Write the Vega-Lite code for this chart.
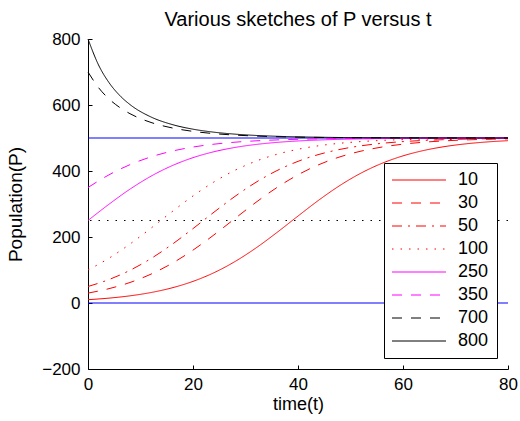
{
  "$schema": "https://vega.github.io/schema/vega-lite/v6.json",
  "width": 420,
  "height": 330,
  "autosize": {"type": "none"},
  "padding": {"left": 88, "top": 39, "right": 12, "bottom": 52},
  "background": "white",
  "config": {
    "font": "Liberation Sans",
    "view": {"stroke": null},
    "axis": {
      "grid": false,
      "domainColor": "#000000",
      "domainWidth": 1,
      "tickColor": "#000000",
      "tickSize": -4,
      "labelFontSize": 17,
      "labelColor": "#000000",
      "labelFlush": false,
      "titleFontSize": 19,
      "titleFontWeight": "normal",
      "titleColor": "#000000",
      "labelFont": "Liberation Sans",
      "titleFont": "Liberation Sans"
    },
    "legend": {
      "labelFont": "Liberation Sans"
    }
  },
  "title": {
    "text": "Various sketches of P versus t",
    "fontSize": 20,
    "fontWeight": "normal",
    "color": "#000000",
    "font": "Liberation Sans",
    "anchor": "middle",
    "offset": 0
  },
  "datasets": {
    "curves": [
      {"p0": 10, "t": 0, "P": 10}, {"p0": 10, "t": 4, "P": 14.77}, {"p0": 10, "t": 8, "P": 21.72}, {"p0": 10, "t": 12, "P": 31.73}, {"p0": 10, "t": 16, "P": 45.9}, {"p0": 10, "t": 20, "P": 65.52}, {"p0": 10, "t": 24, "P": 91.82}, {"p0": 10, "t": 28, "P": 125.64}, {"p0": 10, "t": 32, "P": 166.82}, {"p0": 10, "t": 36, "P": 213.78}, {"p0": 10, "t": 40, "P": 263.5}, {"p0": 10, "t": 44, "P": 312.19}, {"p0": 10, "t": 48, "P": 356.31}, {"p0": 10, "t": 52, "P": 393.6}, {"p0": 10, "t": 56, "P": 423.3}, {"p0": 10, "t": 60, "P": 445.85}, {"p0": 10, "t": 64, "P": 462.36}, {"p0": 10, "t": 68, "P": 474.13}, {"p0": 10, "t": 72, "P": 482.36}, {"p0": 10, "t": 76, "P": 488.03}, {"p0": 10, "t": 80, "P": 491.92},
      {"p0": 30, "t": 0, "P": 30}, {"p0": 30, "t": 4, "P": 43.47}, {"p0": 30, "t": 8, "P": 62.19}, {"p0": 30, "t": 12, "P": 87.43}, {"p0": 30, "t": 16, "P": 120.1}, {"p0": 30, "t": 20, "P": 160.25}, {"p0": 30, "t": 24, "P": 206.5}, {"p0": 30, "t": 28, "P": 256.06}, {"p0": 30, "t": 32, "P": 305.14}, {"p0": 30, "t": 36, "P": 350.12}, {"p0": 30, "t": 40, "P": 388.52}, {"p0": 30, "t": 44, "P": 419.34}, {"p0": 30, "t": 48, "P": 442.89}, {"p0": 30, "t": 52, "P": 460.22}, {"p0": 30, "t": 56, "P": 472.62}, {"p0": 30, "t": 60, "P": 481.31}, {"p0": 30, "t": 64, "P": 487.31}, {"p0": 30, "t": 68, "P": 491.42}, {"p0": 30, "t": 72, "P": 494.22}, {"p0": 30, "t": 76, "P": 496.11}, {"p0": 30, "t": 80, "P": 497.39},
      {"p0": 50, "t": 0, "P": 50}, {"p0": 50, "t": 4, "P": 71.09}, {"p0": 50, "t": 8, "P": 99.13}, {"p0": 50, "t": 12, "P": 134.74}, {"p0": 50, "t": 16, "P": 177.49}, {"p0": 50, "t": 20, "P": 225.43}, {"p0": 50, "t": 24, "P": 275.26}, {"p0": 50, "t": 28, "P": 323.14}, {"p0": 50, "t": 32, "P": 365.8}, {"p0": 50, "t": 36, "P": 401.31}, {"p0": 50, "t": 40, "P": 429.24}, {"p0": 50, "t": 44, "P": 450.25}, {"p0": 50, "t": 48, "P": 465.52}, {"p0": 50, "t": 52, "P": 476.35}, {"p0": 50, "t": 56, "P": 483.9}, {"p0": 50, "t": 60, "P": 489.09}, {"p0": 50, "t": 64, "P": 492.63}, {"p0": 50, "t": 68, "P": 495.04}, {"p0": 50, "t": 72, "P": 496.66}, {"p0": 50, "t": 76, "P": 497.76}, {"p0": 50, "t": 80, "P": 498.5},
      {"p0": 100, "t": 0, "P": 100}, {"p0": 100, "t": 4, "P": 135.82}, {"p0": 100, "t": 8, "P": 178.74}, {"p0": 100, "t": 12, "P": 226.78}, {"p0": 100, "t": 16, "P": 276.61}, {"p0": 100, "t": 20, "P": 324.39}, {"p0": 100, "t": 24, "P": 366.87}, {"p0": 100, "t": 28, "P": 402.17}, {"p0": 100, "t": 32, "P": 429.9}, {"p0": 100, "t": 36, "P": 450.73}, {"p0": 100, "t": 40, "P": 465.87}, {"p0": 100, "t": 44, "P": 476.59}, {"p0": 100, "t": 48, "P": 484.07}, {"p0": 100, "t": 52, "P": 489.2}, {"p0": 100, "t": 56, "P": 492.71}, {"p0": 100, "t": 60, "P": 495.09}, {"p0": 100, "t": 64, "P": 496.7}, {"p0": 100, "t": 68, "P": 497.78}, {"p0": 100, "t": 72, "P": 498.51}, {"p0": 100, "t": 76, "P": 499.0}, {"p0": 100, "t": 80, "P": 499.33},
      {"p0": 250, "t": 0, "P": 250}, {"p0": 250, "t": 4, "P": 299.34}, {"p0": 250, "t": 8, "P": 344.99}, {"p0": 250, "t": 12, "P": 384.26}, {"p0": 250, "t": 16, "P": 416.01}, {"p0": 250, "t": 20, "P": 440.4}, {"p0": 250, "t": 24, "P": 458.41}, {"p0": 250, "t": 28, "P": 471.34}, {"p0": 250, "t": 32, "P": 480.42}, {"p0": 250, "t": 36, "P": 486.7}, {"p0": 250, "t": 40, "P": 491.01}, {"p0": 250, "t": 44, "P": 493.94}, {"p0": 250, "t": 48, "P": 495.92}, {"p0": 250, "t": 52, "P": 497.26}, {"p0": 250, "t": 56, "P": 498.16}, {"p0": 250, "t": 60, "P": 498.76}, {"p0": 250, "t": 64, "P": 499.17}, {"p0": 250, "t": 68, "P": 499.44}, {"p0": 250, "t": 72, "P": 499.63}, {"p0": 250, "t": 76, "P": 499.75}, {"p0": 250, "t": 80, "P": 499.83},
      {"p0": 350, "t": 0, "P": 350}, {"p0": 350, "t": 4, "P": 388.42}, {"p0": 350, "t": 8, "P": 419.27}, {"p0": 350, "t": 12, "P": 442.83}, {"p0": 350, "t": 16, "P": 460.18}, {"p0": 350, "t": 20, "P": 472.59}, {"p0": 350, "t": 24, "P": 481.29}, {"p0": 350, "t": 28, "P": 487.3}, {"p0": 350, "t": 32, "P": 491.41}, {"p0": 350, "t": 36, "P": 494.21}, {"p0": 350, "t": 40, "P": 496.11}, {"p0": 350, "t": 44, "P": 497.38}, {"p0": 350, "t": 48, "P": 498.24}, {"p0": 350, "t": 52, "P": 498.82}, {"p0": 350, "t": 56, "P": 499.21}, {"p0": 350, "t": 60, "P": 499.47}, {"p0": 350, "t": 64, "P": 499.64}, {"p0": 350, "t": 68, "P": 499.76}, {"p0": 350, "t": 72, "P": 499.84}, {"p0": 350, "t": 76, "P": 499.89}, {"p0": 350, "t": 80, "P": 499.93},
      {"p0": 700, "t": 0, "P": 700}, {"p0": 700, "t": 2, "P": 652.67}, {"p0": 700, "t": 4, "P": 618.44}, {"p0": 700, "t": 6, "P": 592.98}, {"p0": 700, "t": 8, "P": 573.65}, {"p0": 700, "t": 12, "P": 547.08}, {"p0": 700, "t": 16, "P": 530.61}, {"p0": 700, "t": 20, "P": 520.11}, {"p0": 700, "t": 24, "P": 513.3}, {"p0": 700, "t": 28, "P": 508.84}, {"p0": 700, "t": 32, "P": 505.89}, {"p0": 700, "t": 36, "P": 503.93}, {"p0": 700, "t": 40, "P": 502.63}, {"p0": 700, "t": 44, "P": 501.76}, {"p0": 700, "t": 48, "P": 501.18}, {"p0": 700, "t": 52, "P": 500.79}, {"p0": 700, "t": 56, "P": 500.53}, {"p0": 700, "t": 60, "P": 500.35}, {"p0": 700, "t": 64, "P": 500.24}, {"p0": 700, "t": 68, "P": 500.16}, {"p0": 700, "t": 72, "P": 500.11}, {"p0": 700, "t": 76, "P": 500.07}, {"p0": 700, "t": 80, "P": 500.05},
      {"p0": 800, "t": 0, "P": 800}, {"p0": 800, "t": 2, "P": 721.52}, {"p0": 800, "t": 4, "P": 667.89}, {"p0": 800, "t": 6, "P": 629.56}, {"p0": 800, "t": 8, "P": 601.32}, {"p0": 800, "t": 12, "P": 563.67}, {"p0": 800, "t": 16, "P": 540.96}, {"p0": 800, "t": 20, "P": 526.73}, {"p0": 800, "t": 24, "P": 517.61}, {"p0": 800, "t": 28, "P": 511.67}, {"p0": 800, "t": 32, "P": 507.76}, {"p0": 800, "t": 36, "P": 505.18}, {"p0": 800, "t": 40, "P": 503.46}, {"p0": 800, "t": 44, "P": 502.31}, {"p0": 800, "t": 48, "P": 501.55}, {"p0": 800, "t": 52, "P": 501.04}, {"p0": 800, "t": 56, "P": 500.69}, {"p0": 800, "t": 60, "P": 500.47}, {"p0": 800, "t": 64, "P": 500.31}, {"p0": 800, "t": 68, "P": 500.21}, {"p0": 800, "t": 72, "P": 500.14}, {"p0": 800, "t": 76, "P": 500.09}, {"p0": 800, "t": 80, "P": 500.06}
    ],
    "equilibria": [{"level": 0}, {"level": 500}],
    "inflection": [{"level": 250}]
  },
  "layer": [
    {
      "data": {"name": "equilibria"},
      "mark": {"type": "rule", "color": "#0000FF", "strokeWidth": 1},
      "encoding": {
        "y": {"field": "level", "type": "quantitative", "scale": {"domain": [-200, 800]}}
      }
    },
    {
      "data": {"name": "inflection"},
      "mark": {"type": "rule", "color": "#000000", "strokeWidth": 1.2, "strokeDash": [1.5, 7]},
      "encoding": {
        "y": {"field": "level", "type": "quantitative"}
      }
    },
    {
      "data": {"name": "curves"},
      "mark": {"type": "line", "strokeWidth": 1, "interpolate": "monotone"},
      "encoding": {
        "x": {
          "field": "t", "type": "quantitative",
          "scale": {"domain": [0, 80], "nice": false},
          "axis": {"values": [0, 20, 40, 60, 80], "title": "time(t)", "labelPadding": 11, "titlePadding": 3, "titleFontSize": 18}
        },
        "y": {
          "field": "P", "type": "quantitative",
          "scale": {"domain": [-200, 800], "nice": false},
          "axis": {"values": [-200, 0, 200, 400, 600, 800], "title": "Population(P)", "labelPadding": 12, "titlePadding": 16}
        },
        "color": {
          "field": "p0", "type": "nominal",
          "scale": {
            "domain": [10, 30, 50, 100, 250, 350, 700, 800],
            "range": ["#FF0000", "#FF0000", "#FF0000", "#FF0000", "#FF00FF", "#FF00FF", "#000000", "#000000"]
          },
          "legend": {
            "title": null,
            "orient": "bottom-right",
            "offset": 11,
            "strokeColor": "#000000",
            "fillColor": "#FFFFFF",
            "padding": 8,
            "rowPadding": 5,
            "symbolType": "M-5.4,0H5.4",
            "symbolSize": 100,
            "symbolOffset": 18,
            "symbolStrokeWidth": 1,
            "labelFontSize": 18,
            "labelColor": "#000000",
            "labelOffset": 30,
            "encode": {
              "symbols": {"update": {"stroke": {"scale": "color", "field": "value"}, "fill": {"value": "transparent"}}}
            }
          }
        },
        "strokeDash": {
          "field": "p0", "type": "nominal",
          "scale": {
            "domain": [10, 30, 50, 100, 250, 350, 700, 800],
            "range": [[1, 0], [10, 9], [10, 6, 2, 6], [1.5, 7], [1, 0], [10, 9], [10, 9], [1, 0]]
          },
          "legend": {
            "title": null,
            "orient": "bottom-right",
            "offset": 11,
            "strokeColor": "#000000",
            "fillColor": "#FFFFFF",
            "padding": 8,
            "rowPadding": 5,
            "symbolType": "M-5.4,0H5.4",
            "symbolSize": 100,
            "symbolOffset": 18,
            "symbolStrokeWidth": 1,
            "labelFontSize": 18,
            "labelColor": "#000000",
            "labelOffset": 30,
            "encode": {
              "symbols": {"update": {"stroke": {"scale": "color", "field": "value"}, "fill": {"value": "transparent"}}}
            }
          }
        }
      }
    }
  ]
}
